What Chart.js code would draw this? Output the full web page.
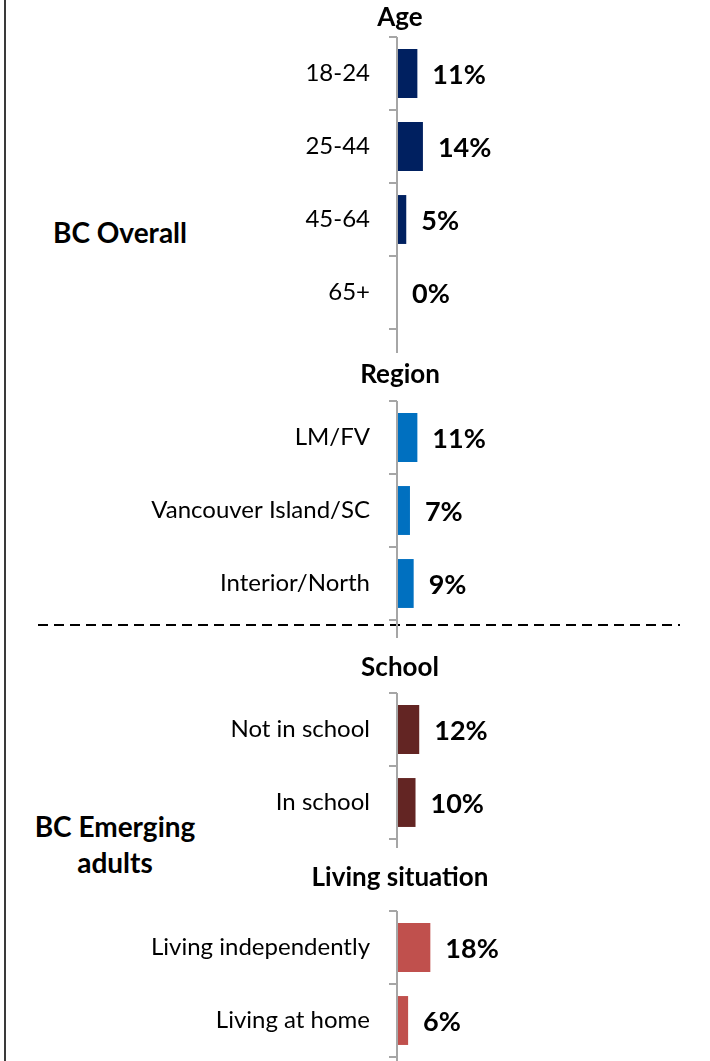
<!DOCTYPE html>
<html>
<head>
<meta charset="utf-8">
<script src="https://cdn.jsdelivr.net/npm/chart.js@4"></script>
<style>
  body { margin: 0; background: #fff; }
  #wrap { position: relative; width: 710px; height: 1061px; overflow: hidden; font-family: Lato, "Noto Sans", sans-serif; }
  canvas { position: absolute; left: 90px; }
  .side { position: absolute; font-weight: bold; font-size: 28px; color: #000; text-align: center; line-height: 36px; }
  #frame { position: absolute; left: 4px; top: 0; width: 2px; height: 1061px; background: #3a3a3a; }
</style>
</head>
<body>
<div id="wrap">
  <div id="frame"></div>
  <svg style="position:absolute;left:0;top:0" width="710" height="1061">
    <line x1="38" y1="625" x2="680" y2="625" stroke="#000" stroke-width="2" stroke-dasharray="10 6"/>
  </svg>
  <div class="side" style="left:30px;top:214px;width:180px">BC Overall</div>
  <div class="side" style="left:10px;top:808px;width:210px">BC Emerging<br>adults</div>
</div>
<script>
const ageLabels = ['18-24', '25-44', '45-64', '65+']
const ageValues = [11, 14, 5, 0]
const regionLabels = ['LM/FV', 'Vancouver Island/SC', 'Interior/North']
const regionValues = [11, 7, 9]
const schoolLabels = ['Not in school', 'In school']
const schoolValues = [12, 10]
const livingLabels = ['Living independently', 'Living at home']
const livingValues = [18, 6]

const FONT = 'Lato, "Noto Sans", sans-serif'
const TITLE_SIZE = 26
const TITLE_H = TITLE_SIZE * 1.2
const ROW = 73      // px per category
const BOTTOM = 24   // spare room under each plot (canvases may overlap, they are transparent)

// y axis line + short tick marks, drawn by hand so the line can run past the last tick
const axisLine = {
    id: 'axisLine',
    afterDraw(chart, args, opts) {
        const ctx = chart.ctx
        const a = chart.chartArea
        const n = chart.data.labels.length
        const step = (a.bottom - a.top) / n
        ctx.save()
        ctx.strokeStyle = '#a6a6a6'
        ctx.lineWidth = 2
        ctx.beginPath()
        ctx.moveTo(a.left, a.top)
        ctx.lineTo(a.left, a.bottom + (opts.ext || 0))
        for (let i = 0; i <= n; i++) {
            const y = Math.round(a.top + i * step)
            ctx.moveTo(a.left - 8, y)
            ctx.lineTo(a.left, y)
        }
        ctx.stroke()
        ctx.restore()
    }
}

// percent labels to the right of each bar
const valueLabels = {
    id: 'valueLabels',
    afterDatasetsDraw(chart) {
        const ctx = chart.ctx
        const meta = chart.getDatasetMeta(0)
        const data = chart.data.datasets[0].data
        ctx.save()
        ctx.font = 'bold 27px ' + FONT
        ctx.fillStyle = '#000'
        ctx.textAlign = 'left'
        ctx.textBaseline = 'middle'
        meta.data.forEach((bar, i) => {
            ctx.fillText(data[i] + '%', bar.x + 15, bar.y + 2)
        })
        ctx.restore()
    }
}

function makeChart(title, labels, values, color, titleCenter, axisTop, ext) {
    const canvas = document.createElement('canvas')
    const top = Math.round(titleCenter - TITLE_H / 2)
    canvas.width = 620
    canvas.height = (axisTop - top) + labels.length * ROW + BOTTOM
    canvas.style.top = top + 'px'
    document.getElementById('wrap').appendChild(canvas)
    return new Chart(canvas, {
        type: 'bar',
        data: {
            labels: labels,
            datasets: [{
                data: values,
                backgroundColor: color,
                barPercentage: 0.67,
                categoryPercentage: 1
            }]
        },
        options: {
            indexAxis: 'y',
            responsive: false,
            animation: false,
            layout: { padding: { top: 0, bottom: BOTTOM, left: 0, right: 0 } },
            plugins: {
                legend: { display: false },
                tooltip: { enabled: false },
                title: {
                    display: true,
                    text: title,
                    color: '#000',
                    font: { family: FONT, size: TITLE_SIZE, weight: 'bold', lineHeight: 1.2 },
                    padding: { top: 0, bottom: axisTop - top - TITLE_H }
                },
                axisLine: { ext: ext }
            },
            scales: {
                x: { display: false, min: 0, max: 169 },
                y: {
                    afterFit: (scale) => { scale.width = 307 },
                    border: { display: false },
                    grid: { display: false, drawTicks: true, tickLength: 27 },
                    ticks: {
                        color: '#000',
                        padding: 0,
                        font: { family: FONT, size: 24 }
                    }
                }
            }
        },
        plugins: [axisLine, valueLabels]
    })
}

makeChart('Age', ageLabels, ageValues, '#002060', 18, 37, 24)
makeChart('Region', regionLabels, regionValues, '#0070c0', 375, 401, 18)
makeChart('School', schoolLabels, schoolValues, '#632523', 668, 693, 9)
makeChart('Living situation', livingLabels, livingValues, '#c0504d', 878, 911, 4)
</script>
</body>
</html>
